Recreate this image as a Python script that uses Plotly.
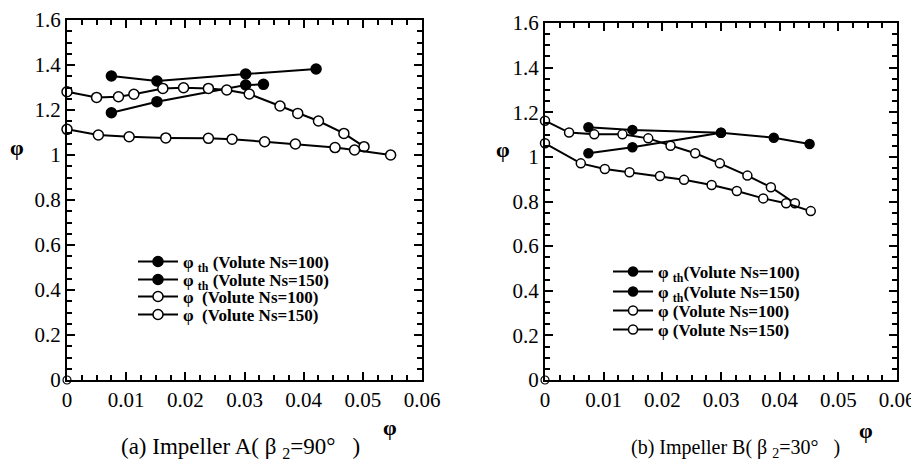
import plotly.graph_objects as go

# ---------------- data ----------------
# Panel (a) Impeller A
a_th100_x = [0.0075, 0.0152, 0.0302, 0.0421]
a_th100_y = [1.351, 1.329, 1.360, 1.382]
a_th150_x = [0.0075, 0.0152, 0.0302, 0.0332]
a_th150_y = [1.188, 1.237, 1.311, 1.314]
a_p100_x = [0.0, 0.0050, 0.0087, 0.0113, 0.0162, 0.0197, 0.0239, 0.0270, 0.0308, 0.0360, 0.0390, 0.0425, 0.0468, 0.0502]
a_p100_y = [1.281, 1.256, 1.259, 1.270, 1.296, 1.299, 1.296, 1.289, 1.271, 1.218, 1.185, 1.151, 1.096, 1.037]
a_p150_x = [0.0, 0.0053, 0.0105, 0.0167, 0.0239, 0.0279, 0.0334, 0.0386, 0.0453, 0.0486, 0.0547]
a_p150_y = [1.114, 1.089, 1.081, 1.076, 1.074, 1.070, 1.059, 1.049, 1.033, 1.022, 1.000]

# Panel (b) Impeller B
b_th100_x = [0.0074, 0.0149, 0.0300, 0.0390, 0.0451]
b_th100_y = [1.133, 1.121, 1.108, 1.086, 1.058]
b_th150_x = [0.0074, 0.0149, 0.0300]
b_th150_y = [1.016, 1.043, 1.108]
b_p100_x = [0.0, 0.0041, 0.0084, 0.0132, 0.0176, 0.0214, 0.0256, 0.0298, 0.0345, 0.0385, 0.0426]
b_p100_y = [1.162, 1.109, 1.101, 1.101, 1.083, 1.050, 1.016, 0.971, 0.916, 0.864, 0.792]
b_p150_x = [0.0, 0.0061, 0.0102, 0.0144, 0.0196, 0.0237, 0.0284, 0.0327, 0.0372, 0.0411, 0.0453]
b_p150_y = [1.061, 0.971, 0.946, 0.931, 0.914, 0.897, 0.874, 0.847, 0.814, 0.792, 0.757]

legend_names_a = ["φ <sub>th</sub> (Volute Ns=100)", "φ <sub>th</sub> (Volute Ns=150)",
                  "φ  (Volute Ns=100)", "φ  (Volute Ns=150)"]
legend_names_b = ["φ <sub>th</sub>(Volute Ns=100)", "φ <sub>th</sub>(Volute Ns=150)",
                  "φ (Volute Ns=100)", "φ (Volute Ns=150)"]
x_ticks = [0, 0.01, 0.02, 0.03, 0.04, 0.05, 0.06]
x_tick_text = ["0", "0.01", "0.02", "0.03", "0.04", "0.05", "0.06"]
y_ticks = [0, 0.2, 0.4, 0.6, 0.8, 1.0, 1.2, 1.4, 1.6]
y_tick_text = ["0", "0.2", "0.4", "0.6", "0.8", "1", "1.2", "1.4", "1.6"]
origin_x = [0.0]
origin_y = [0.0]

# ---------------- figure ----------------
OFF = 8                      # page body margin in the browser
W, H = 919 - OFF, 466 - OFF
SERIF = "Liberation Serif, Times New Roman, serif"

def px_x(p):
    return (p - OFF) / W

def px_y(p):
    return 1 - (p - OFF) / H

fig = go.Figure()

panels = [
    dict(xa="x", ya="y", names=legend_names_a, msize=10,
         series=[(a_th100_x, a_th100_y), (a_th150_x, a_th150_y), (a_p100_x, a_p100_y), (a_p150_x, a_p150_y)],
         leg_x=133, leg_rows=[262, 280, 297, 315], leg_ids=["legend", "legend2", "legend3", "legend4"]),
    dict(xa="x2", ya="y2", names=legend_names_b, msize=9,
         series=[(b_th100_x, b_th100_y), (b_th150_x, b_th150_y), (b_p100_x, b_p100_y), (b_p150_x, b_p150_y)],
         leg_x=608, leg_rows=[272, 292, 311, 330], leg_ids=["legend5", "legend6", "legend7", "legend8"]),
]

legend_layout = {}
for p in panels:
    for i, (xs, ys) in enumerate(p["series"]):
        filled = i < 2
        fig.add_trace(go.Scatter(
            x=xs, y=ys, name="<b>" + p["names"][i] + "</b>", mode="lines+markers",
            xaxis=p["xa"], yaxis=p["ya"], legend=p["leg_ids"][i], cliponaxis=False,
            line=dict(color="black", width=2),
            marker=dict(symbol="circle", size=p["msize"],
                        color="black" if filled else "white",
                        line=dict(color="black", width=1.5)),
        ))
        legend_layout[p["leg_ids"][i]] = dict(
            x=px_x(p["leg_x"]), y=px_y(p["leg_rows"][i]), xanchor="left", yanchor="middle",
            bgcolor="rgba(0,0,0,0)", borderwidth=0, itemwidth=40,
            font=dict(family=SERIF, size=17, color="black"),
        )
    fig.add_trace(go.Scatter(
        x=origin_x, y=origin_y, mode="markers", showlegend=False,
        xaxis=p["xa"], yaxis=p["ya"], cliponaxis=False,
        marker=dict(symbol="circle-open", size=8, color="black", line=dict(width=1.2)),
    ))

axis_common = dict(
    showgrid=False, zeroline=False, showline=True, linecolor="black", linewidth=2,
    mirror="allticks", ticks="inside", ticklen=8, tickwidth=2, tickcolor="black",
    automargin=False,
    tickfont=dict(family=SERIF, size=21, color="black"),
)

xa_common = dict(axis_common, range=[0, 0.06], tickmode="array", tickvals=x_ticks, ticktext=x_tick_text,
                 minor=dict(dtick=0.0025, ticks="inside", ticklen=5, tickwidth=1.5, tickcolor="black"))
ya_common = dict(axis_common, range=[0, 1.6], tickmode="array", tickvals=y_ticks, ticktext=y_tick_text,
                 minor=dict(dtick=0.05, ticks="inside", ticklen=5, tickwidth=1.5, tickcolor="black"))

fig.update_layout(
    template="none",
    width=W, height=H, margin=dict(l=0, r=0, t=0, b=0, pad=0, autoexpand=False),
    paper_bgcolor="white", plot_bgcolor="white",
    xaxis=dict(xa_common, domain=[px_x(67), px_x(422)], anchor="y"),
    yaxis=dict(ya_common, domain=[px_y(380), px_y(20)], anchor="x"),
    xaxis2=dict(xa_common, domain=[px_x(545), px_x(897)], anchor="y2"),
    yaxis2=dict(ya_common, domain=[px_y(380), px_y(23)], anchor="x2"),
    showlegend=True,
    **legend_layout,
)

annots = [
    dict(x=17, y=147, text="<b>φ</b>", size=22),
    dict(x=503, y=149, text="<b>φ</b>", size=22),
    dict(x=390, y=427, text="<b>φ</b>", size=22),
    dict(x=866, y=430, text="<b>φ</b>", size=22),
    dict(x=241, y=448, text="(a) Impeller A( β <sub>2</sub>=90°   )", size=23),
    dict(x=735, y=448, text="(b) Impeller B( β <sub>2</sub>=30°   )", size=20),
]
for a in annots:
    fig.add_annotation(x=px_x(a["x"]), y=px_y(a["y"]), xref="paper", yref="paper", text=a["text"],
                       showarrow=False, xanchor="center", yanchor="middle",
                       font=dict(family=SERIF, size=a["size"], color="black"))

fig.write_html("out.html")
